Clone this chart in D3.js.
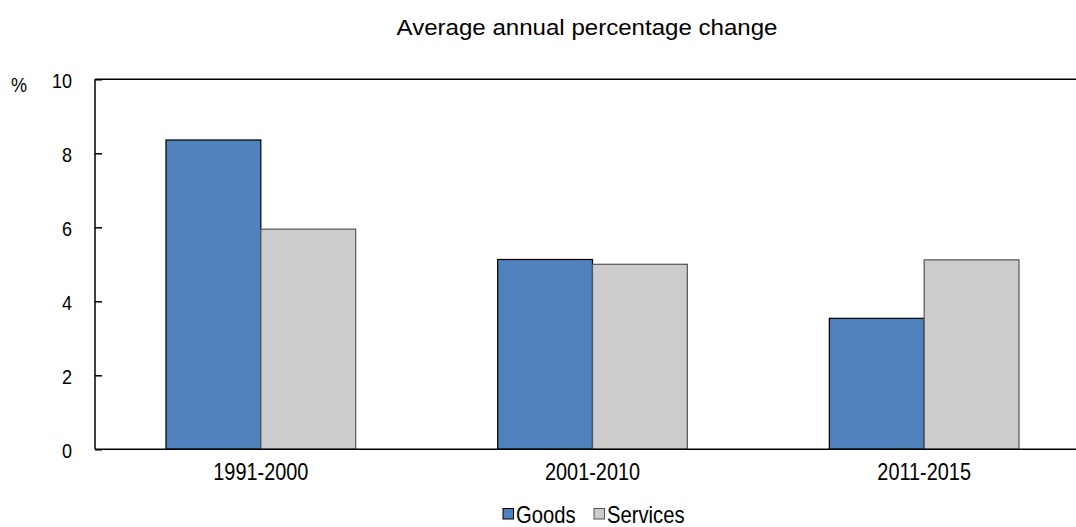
<!DOCTYPE html>
<html><head><meta charset="utf-8">
<script src="https://cdn.jsdelivr.net/npm/d3@7"></script>
<style>
body{margin:0;background:#fff;}
svg text{fill:#000;}
</style></head>
<body>
<svg id="chart" width="1076" height="527"></svg>
<script>
const categories = ["1991-2000", "2001-2010", "2011-2015"];
const seriesNames = ["Goods", "Services"];
const goods = [8.36, 5.13, 3.54];
const services = [5.95, 5.0, 5.12];
const yTicks = [0, 2, 4, 6, 8, 10];
const title = "Average annual percentage change";
const yUnit = "%";

const colors = {Goods: "#4F81BD", Services: "#CCCCCC"};
const strokes = {Goods: "#000000", Services: "#555555"};
const font = "'Liberation Sans',Arial,sans-serif";

const svg = d3.select("#chart");
const pLeft = 95, pRight = 1090, pTop = 79.3, pBottom = 449.3;

const x = d3.scaleBand().domain(categories).range([pLeft, pRight]).paddingInner(0.428).paddingOuter(0.214);
const xs = d3.scaleBand().domain(seriesNames).range([0, x.bandwidth()]);
const y = d3.scaleLinear().domain([0, 10]).range([pBottom, pTop]);

const rows = categories.map((c, i) => ({cat: c, Goods: goods[i], Services: services[i]}));

function scaledText(parent, tx, ty, sx, size, anchor, str) {
  return parent.append("text")
    .attr("transform", `translate(${tx},${ty}) scale(${sx},1)`)
    .attr("text-anchor", anchor)
    .style("font-family", font).style("font-size", size + "px")
    .text(str);
}

// title
scaledText(svg, 587, 35, 1.095, 22, "middle", title);

// bars
const g = svg.append("g");
rows.forEach(r => {
  seriesNames.forEach(s => {
    g.append("rect")
      .attr("x", x(r.cat) + xs(s))
      .attr("y", y(r[s]))
      .attr("width", xs.bandwidth())
      .attr("height", y(0) - y(r[s]))
      .attr("fill", colors[s])
      .attr("stroke", strokes[s])
      .attr("stroke-width", 1.2);
  });
});

// top border
svg.append("line").attr("x1", pLeft).attr("x2", 1076).attr("y1", y(10)).attr("y2", y(10))
  .attr("stroke", "#000").attr("stroke-width", 1.5);

// y axis
const yAxis = d3.axisLeft(y).tickValues(yTicks).tickSize(-7).tickPadding(23).tickFormat(d3.format("d"));
const ya = svg.append("g").attr("transform", `translate(${pLeft},0)`).call(yAxis);
ya.select(".domain").attr("stroke", "#000").attr("stroke-width", 1.5).attr("d", `M0,${pTop}V${pBottom}`);
ya.selectAll(".tick line").attr("stroke", "#000").attr("stroke-width", 1.5);
ya.selectAll(".tick text")
  .attr("x", 0).attr("dy", "0.42em")
  .attr("transform", "translate(-23,0) scale(0.88,1)")
  .style("font-family", font).style("font-size", "20.5px").attr("fill", "#000");

// x axis
const xAxis = d3.axisBottom(x).tickSize(0).tickPadding(0);
const xa = svg.append("g").attr("transform", `translate(0,${pBottom})`).call(xAxis);
xa.select(".domain").attr("stroke", "#000").attr("stroke-width", 1.5).attr("d", `M${pLeft},0H1076`);
xa.selectAll(".tick text")
  .attr("y", 0).attr("dy", null)
  .attr("transform", `translate(0,${480 - pBottom}) scale(0.865,1)`)
  .style("font-family", font).style("font-size", "23px").attr("fill", "#000");

// unit
scaledText(svg, 19, 91.5, 0.88, 20.5, "middle", yUnit);

// legend
const legend = svg.append("g");
const legendX = [503, 594];
seriesNames.forEach((s, i) => {
  const lg = legend.append("g").attr("transform", `translate(${legendX[i]},0)`);
  lg.append("rect").attr("x", 0).attr("y", 508.5).attr("width", 10.5).attr("height", 10.5)
    .attr("fill", colors[s]).attr("stroke", strokes[s]).attr("stroke-width", 1);
  scaledText(lg, 13, 523, 0.88, 23, "start", s);
});
</script>
</body></html>
